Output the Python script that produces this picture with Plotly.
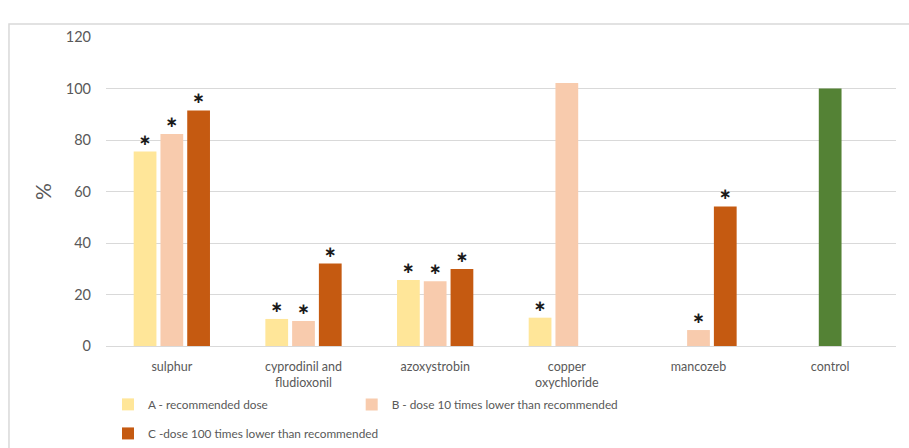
import plotly.graph_objects as go

# Categories (x axis) and series values in %
categories = ["sulphur", "cyprodinil and<br>fludioxonil", "azoxystrobin",
              "copper<br>oxychloride", "mancozeb", "control"]
series_a = [75.5, 10.5, 25.6, 11.0, None, None]
series_b = [82.3, 9.7, 25.1, 102.1, 6.2, None]
series_c = [91.5, 32.0, 29.9, None, 54.2, None]
control_value = [None, None, None, None, None, 100.0]

# Significance marks shown above bars
marks_a = ["∗", "∗", "∗", "∗", "", ""]
marks_b = ["∗", "∗", "∗", "", "∗", ""]
marks_c = ["∗", "∗", "∗", "", "∗", ""]

names = ["A - recommended dose",
         "B - dose 10 times lower than recommended",
         "C -dose 100 times lower than recommended"]
y_ticks = [0, 20, 40, 60, 80, 100, 120]

FONT = "Lato, Open Sans, sans-serif"
GREY = "#595959"
colors = ["#FFE699", "#F8CBAD", "#C55A11"]

fig = go.Figure()
for vals, marks, name, col, grp, leg in [
    (series_a, marks_a, names[0], colors[0], "a", "legend"),
    (series_b, marks_b, names[1], colors[1], "b", "legend2"),
    (series_c, marks_c, names[2], colors[2], "c", "legend3"),
]:
    fig.add_trace(go.Bar(
        x=categories, y=vals, name=name, offsetgroup=grp, legend=leg,
        marker=dict(color=col, line=dict(width=0)),
        text=marks, textposition="outside", cliponaxis=False,
        textfont=dict(family="DejaVu Sans, sans-serif", size=15,
                      color="#1a1a1a", weight="bold"),
    ))

# Control bar shares the middle slot of the group
fig.add_trace(go.Bar(
    x=categories, y=control_value, name="control", offsetgroup="b",
    showlegend=False, marker=dict(color="#548235", line=dict(width=0)),
))

legend_style = dict(orientation="h", xanchor="left", yanchor="top",
                    font=dict(family=FONT, size=11.8, color=GREY),
                    bgcolor="rgba(0,0,0,0)")
fig.update_layout(
    width=909, height=448,
    margin=dict(l=106, r=13, t=37, b=102, autoexpand=False),
    paper_bgcolor="white", plot_bgcolor="white",
    barmode="group", bargap=0.39, bargroupgap=0.15,
    font=dict(family=FONT, size=12, color=GREY),
    legend=dict(x=0.0025, y=-0.142, **legend_style),
    legend2=dict(x=0.311, y=-0.142, **legend_style),
    legend3=dict(x=0.0025, y=-0.236, **legend_style),
    showlegend=True,
    shapes=[dict(type="rect", xref="paper", yref="paper",
                 x0=-0.1228, x1=1.05, y0=-0.369, y1=1.042,
                 line=dict(color="#D9D9D9", width=1.5), layer="below")],
)

fig.update_xaxes(showgrid=False, showline=True, linecolor="#D9D9D9", linewidth=1,
                 ticks="", ticklabelstandoff=9,
                 tickfont=dict(family=FONT, size=12.5, color=GREY))
fig.update_yaxes(range=[0, 120], tickvals=y_ticks, showgrid=True, gridcolor="#D9D9D9",
                 gridwidth=1, zeroline=False, showline=False, ticks="",
                 ticklabelstandoff=14,
                 tickfont=dict(family=FONT, size=14.5, color=GREY),
                 title=dict(text="%", font=dict(family=FONT, size=21, color=GREY),
                            standoff=8))

fig.write_html("out.html")
